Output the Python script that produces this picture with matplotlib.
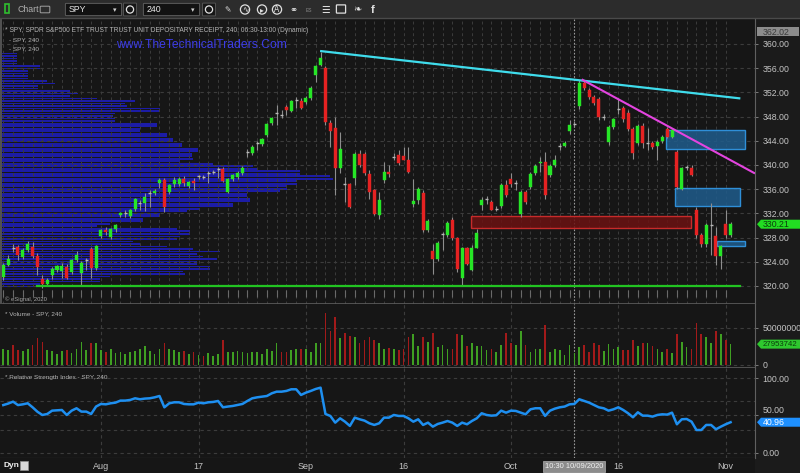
import numpy as np
import pandas as pd
import matplotlib
matplotlib.use("Agg")
import matplotlib.pyplot as plt
from matplotlib.patches import Rectangle, Polygon, FancyBboxPatch, Circle
from matplotlib.collections import LineCollection

plt.rcParams['font.family'] = ['Liberation Sans', 'DejaVu Sans']

# ---------------- SPY 240-minute bars, 2020-07-20 .. 2020-11-02 ----------------
opens = [321.42, 323.41, 326.45, 326.39, 324.73, 325.89, 326.39, 324.90, 321.09, 320.26,
         321.75, 322.58, 322.41, 323.08, 322.25, 324.24, 322.08, 324.20, 326.06, 322.91,
         328.21, 329.20, 328.04, 329.37, 331.69, 332.00, 331.52, 332.68, 333.60, 333.67,
         335.30, 335.33, 336.98, 337.48, 335.49, 336.82, 336.82, 337.65, 336.49, 337.30,
         338.00, 338.10, 338.60, 338.80, 339.20, 339.30, 335.49, 337.65, 337.98, 338.69,
         342.00, 341.95, 343.55, 343.44, 344.93, 346.92, 348.50, 348.30, 349.62, 348.95,
         350.65, 350.61, 350.44, 351.10, 354.86, 356.52, 355.97, 346.97, 346.14, 339.42,
         337.05, 336.82, 337.81, 341.78, 341.83, 338.59, 335.82, 331.80, 337.48, 338.80,
         341.30, 341.62, 341.50, 340.79, 333.60, 334.17, 335.38, 329.32, 325.72, 324.52,
         328.45, 328.37, 330.97, 327.93, 321.37, 326.34, 322.70, 326.34, 333.34, 334.25,
         333.89, 332.60, 333.18, 336.65, 337.76, 337.00, 331.85, 335.54, 336.37, 338.69,
         340.25, 340.50, 338.31, 339.96, 343.05, 343.11, 345.64, 346.70, 349.73, 353.59,
         352.38, 351.27, 350.84, 347.90, 343.82, 346.31, 349.10, 349.35, 348.62, 345.87,
         343.66, 346.42, 343.60, 343.56, 343.11, 343.94, 345.87, 344.65, 342.17, 336.10,
         339.60, 339.58, 332.51, 328.37, 327.00, 329.95, 328.21, 324.90, 330.19, 328.37]
highs = [323.74, 325.06, 326.88, 326.70, 326.20, 327.38, 327.20, 325.40, 321.75, 321.30,
         323.10, 323.50, 323.74, 323.60, 324.50, 325.70, 324.20, 324.70, 326.40, 326.80,
         329.40, 329.70, 329.60, 330.20, 332.30, 332.50, 332.80, 334.60, 334.20, 335.33,
         335.80, 336.00, 337.80, 337.80, 336.90, 338.00, 338.00, 338.20, 337.40, 337.80,
         338.40, 338.40, 339.00, 339.20, 339.70, 339.70, 337.90, 338.50, 339.00, 339.80,
         342.60, 343.30, 343.90, 344.50, 347.00, 348.00, 349.90, 349.10, 349.90, 350.80,
         351.30, 351.00, 351.40, 353.00, 356.60, 358.75, 356.40, 347.40, 347.96, 345.48,
         338.00, 337.00, 342.20, 342.45, 342.10, 339.10, 336.10, 335.54, 340.51, 339.96,
         341.90, 342.45, 343.00, 343.00, 337.76, 336.40, 335.80, 331.00, 327.00, 327.50,
         328.90, 330.80, 331.40, 328.10, 326.45, 326.45, 326.80, 329.48, 334.70, 334.80,
         334.20, 333.30, 337.00, 337.50, 338.70, 337.50, 335.80, 335.90, 338.80, 340.10,
         341.24, 342.17, 340.10, 341.60, 343.60, 343.90, 347.40, 347.20, 354.00, 354.03,
         352.70, 351.60, 351.27, 348.50, 346.60, 347.80, 351.00, 349.70, 349.10, 346.30,
         346.70, 346.90, 346.04, 343.90, 344.10, 345.00, 346.30, 346.00, 342.45, 339.70,
         340.00, 340.00, 333.00, 328.70, 330.40, 333.67, 329.70, 326.70, 332.51, 330.50]
lows = [320.92, 323.24, 325.56, 324.24, 324.40, 325.60, 324.60, 321.75, 319.60, 320.00,
        321.20, 322.30, 321.25, 321.10, 322.00, 323.90, 320.00, 322.60, 321.40, 322.60,
        327.90, 328.40, 327.80, 329.00, 331.40, 331.40, 331.30, 332.40, 332.50, 332.35,
        333.00, 335.00, 336.20, 332.20, 335.20, 336.30, 336.50, 336.60, 336.20, 335.80,
        337.60, 337.60, 337.00, 338.50, 337.80, 337.20, 335.30, 337.40, 337.65, 338.40,
        341.40, 341.60, 342.50, 343.20, 344.60, 346.60, 346.60, 347.70, 348.20, 348.70,
        349.40, 349.20, 350.10, 350.80, 353.66, 356.30, 346.60, 343.00, 335.00, 338.60,
        333.89, 332.90, 336.65, 339.70, 338.40, 334.45, 331.70, 331.14, 337.00, 338.00,
        340.80, 339.96, 340.80, 338.60, 333.06, 333.60, 328.90, 329.00, 322.03, 324.20,
        325.90, 328.05, 327.55, 322.30, 320.10, 323.40, 322.40, 326.20, 332.50, 333.60,
        332.50, 332.40, 332.85, 334.70, 336.40, 335.80, 331.40, 333.60, 336.10, 338.40,
        338.85, 334.45, 338.00, 339.70, 342.45, 342.90, 345.20, 346.20, 349.20, 352.40,
        350.90, 349.90, 347.40, 347.50, 343.30, 346.00, 348.50, 347.10, 345.60, 341.07,
        343.30, 342.73, 342.45, 342.60, 340.79, 343.70, 344.40, 344.40, 336.10, 335.80,
        339.20, 338.10, 328.00, 326.40, 326.40, 325.06, 323.41, 322.75, 327.90, 328.10]
closes = [323.41, 324.40, 326.30, 325.06, 325.89, 326.88, 324.90, 323.08, 320.26, 320.92,
          322.75, 323.24, 323.24, 321.26, 324.24, 325.06, 323.74, 324.30, 322.91, 326.55,
          329.20, 328.87, 329.37, 330.03, 332.02, 332.10, 332.51, 334.33, 333.70, 334.67,
          335.40, 335.66, 337.48, 333.01, 336.65, 337.48, 337.65, 336.98, 337.15, 336.98,
          338.10, 338.00, 338.75, 338.90, 339.35, 337.36, 337.65, 338.31, 338.69, 339.52,
          342.15, 343.00, 343.70, 344.27, 346.75, 347.74, 348.65, 348.20, 349.07, 350.56,
          350.80, 349.45, 351.10, 352.76, 356.40, 357.73, 347.03, 345.59, 339.52, 342.61,
          336.90, 333.06, 341.78, 339.96, 338.69, 335.54, 331.97, 334.17, 338.85, 338.50,
          341.40, 340.34, 340.90, 338.85, 334.05, 335.99, 329.20, 330.69, 324.52, 327.05,
          328.60, 330.41, 327.99, 322.86, 326.34, 323.69, 326.34, 328.75, 334.28, 334.35,
          332.63, 332.70, 336.65, 335.00, 336.82, 337.05, 335.54, 333.89, 338.47, 339.80,
          340.50, 335.00, 339.80, 340.79, 343.20, 343.66, 346.59, 346.80, 353.59, 352.66,
          351.27, 350.18, 347.96, 348.00, 346.20, 347.53, 349.25, 347.53, 345.87, 342.00,
          346.42, 343.56, 343.70, 342.89, 343.82, 344.65, 344.65, 345.76, 336.37, 339.42,
          339.70, 338.31, 328.37, 326.88, 330.03, 330.10, 324.90, 326.55, 328.37, 330.21]
volume_m = [21, 20, 27, 20, 19, 22, 27, 36, 31, 20,
            19, 15, 19, 20, 16, 21, 31, 20, 30, 29,
            20, 17, 21, 16, 17, 15, 18, 19, 21, 25,
            19, 15, 22, 30, 21, 20, 18, 19, 15, 18,
            13, 12, 16, 12, 15, 34, 18, 17, 19, 18,
            16, 17, 18, 15, 21, 19, 30, 17, 17, 20,
            22, 21, 22, 17, 29, 29, 70, 46, 64, 36,
            43, 39, 38, 30, 34, 37, 34, 29, 22, 23,
            21, 20, 21, 37, 42, 25, 37, 31, 43, 24,
            27, 21, 22, 42, 40, 25, 29, 25, 25, 20,
            22, 17, 27, 43, 29, 27, 45, 27, 17, 21,
            21, 54, 17, 21, 20, 14, 27, 16, 24, 27,
            18, 30, 27, 19, 28, 21, 24, 20, 20, 34,
            25, 30, 29, 25, 21, 18, 21, 16, 42, 31,
            24, 22, 56, 42, 38, 30, 46, 42, 34, 27.953742]
rsi = [64.0, 66.0, 68.6, 64.0, 65.0, 66.4, 61.0, 55.0, 50.7, 52.0,
       56.5, 57.0, 57.4, 50.7, 56.5, 59.7, 55.2, 55.2, 52.0, 62.0,
       65.5, 65.0, 66.4, 67.3, 70.0, 70.0, 70.9, 73.1, 71.8, 72.7,
       73.1, 74.4, 76.2, 61.0, 66.4, 67.7, 67.7, 65.5, 65.0, 65.0,
       67.3, 66.4, 67.7, 68.2, 69.5, 61.0, 62.0, 62.8, 64.2, 65.5,
       69.5, 73.1, 74.4, 75.3, 76.2, 79.8, 82.0, 82.0, 83.0, 85.2,
       85.2, 77.6, 80.7, 83.0, 85.6, 87.4, 52.0, 49.4, 40.4, 46.2,
       41.7, 36.0, 47.1, 44.9, 43.1, 39.5, 37.3, 39.5, 47.1, 47.1,
       50.7, 49.4, 49.4, 46.2, 41.7, 44.9, 37.3, 40.4, 35.0, 38.6,
       40.4, 42.6, 40.4, 36.0, 40.4, 38.2, 42.6, 46.2, 53.0, 50.7,
       49.8, 50.3, 56.5, 53.8, 56.5, 56.1, 53.8, 51.6, 58.3, 59.7,
       59.7, 49.4, 56.5, 59.2, 61.0, 62.0, 65.0, 65.5, 71.8, 69.5,
       67.3, 64.2, 61.0, 59.7, 56.5, 58.3, 61.0, 57.4, 53.0, 47.6,
       54.3, 49.8, 49.8, 48.5, 50.7, 51.6, 51.2, 53.8, 38.2, 44.9,
       45.3, 41.7, 30.5, 30.5, 37.3, 37.3, 31.5, 35.0, 38.2, 40.96]

# volume-by-price profile, top bin first (millions of shares)
profile_volume_m = [5, 5, 5, 5, 5, 12, 12, 8.5, 8.5, 8.5,
                    8.5, 14, 16.5, 11.5, 11.5, 21, 23.5, 21, 29, 40.5,
                    37.5, 38, 48, 48, 34.5, 34, 34.5, 34.5, 47, 47,
                    42, 42, 50, 50, 52, 52, 54.5, 54.5, 59.5, 59.5,
                    57.5, 57.5, 58, 54, 64, 76, 77, 90, 90, 99,
                    100, 89, 89, 86, 86, 84, 74, 74, 75, 75,
                    70, 70, 60, 56, 48, 48, 43, 43, 33, 29,
                    53, 57, 57, 54, 53, 40, 42, 50, 58, 66,
                    59, 61, 65, 59, 59, 63, 63, 55, 55.5, 33,
                    30, 30, 12, 15]
profile_top = 358.63
profile_step = 0.414

# drawn studies: (bar, price) end points
cyan_trend = [(64.9, 358.84), (151.0, 351.0)]
magenta_trend = [(118.5, 354.15), (154.0, 338.6)]
support_level = 320.0
support_span = (6.9, 151.0)
red_zone = (95.8, 140.9, 329.58, 331.52)
blue_zones = [(135.8, 151.9, 342.66, 345.83),
              (137.7, 150.9, 333.18, 336.27),
              (146.2, 151.9, 326.60, 327.43)]

time_labels = ["Aug", "17", "Sep", "16", "Oct", "16", "Nov"]
time_label_dates = ["2020-08-03", "2020-08-17", "2020-09-01", "2020-09-16",
                    "2020-10-01", "2020-10-16", "2020-11-02"]
cursor_time = "2020-10-09 10:30"

# ---------------- session calendar: two 240-minute bars per day ----------------
days = pd.bdate_range("2020-07-20", "2020-11-02")
days = days[days != pd.Timestamp("2020-09-07")]
bar_times = [d + pd.Timedelta(t) for d in days for t in ("6h30min", "10h30min")]
n = len(bar_times)
x = np.arange(n)
bar_of = {t: i for i, t in enumerate(bar_times)}
label_bars = [bar_of[pd.Timestamp(d) + pd.Timedelta("6h30min")] for d in time_label_dates]
cursor_bar = bar_of[pd.Timestamp(cursor_time)]
day_starts = x[::2]

o, h, l, c = map(np.array, (opens, highs, lows, closes))

# ---------------- figure layout (pixel boxes) ----------------
W, H = 800, 473
BG = '#161616'
GRID = '#3c3c3c'
LBL = '#c4c4c4'
fig = plt.figure(figsize=(W / 100, H / 100), dpi=100)
fig.patch.set_facecolor('#1b1b1b')


def px_axes(x0, y0, x1, y1, **kw):
    return fig.add_axes([x0 / W, 1 - y1 / H, (x1 - x0) / W, (y1 - y0) / H], **kw)


PR = 755
XMIN, XMAX = -0.676, 154.0
ax_prof = px_axes(0, 19, PR, 304)
ax = px_axes(0, 19, PR, 304, sharey=ax_prof)
ax_v = px_axes(0, 304, PR, 368)
ax_r = px_axes(0, 368, PR, 458)
ax_t = px_axes(0, 458, PR, 473)

for a in (ax_prof, ax_v, ax_r, ax_t):
    a.set_facecolor(BG)
ax.set_facecolor('none')
for a in (ax_prof, ax, ax_v, ax_r, ax_t):
    for s in a.spines.values():
        s.set_visible(False)

# ---------------- volume profile ----------------
prof = np.array(profile_volume_m)
centers = profile_top - profile_step * (np.arange(len(prof)) + 0.5)
ax_prof.barh(centers, prof, height=profile_step * 0.68, left=0, color='#1c1ca6',
             edgecolor='none')
ax_prof.set_xlim(0, 226.5)
ax_prof.set_ylim(317.02, 364.13)
ax_prof.tick_params(left=False, labelleft=False, bottom=False, labelbottom=False)

# ---------------- price panel ----------------
ax.set_xlim(XMIN, XMAX)
price_ticks = np.arange(320, 361, 4)
ax.hlines(price_ticks, XMIN, XMAX, colors=GRID, linestyles=(0, (3, 3)), lw=0.8, zorder=1)
ax.vlines(day_starts, 317.02, 364.13, colors=GRID, linestyles=(0, (3, 3)), lw=0.7, zorder=1)
ax.vlines(day_starts, 0.025, 0.05, transform=ax.get_xaxis_transform(),
          colors='#6a6a6a', lw=0.8, zorder=1)
ax.vlines([cursor_bar], 0, 1, transform=ax.get_xaxis_transform(),
          colors='#9a9a9a', linestyles=(0, (1.5, 1.5)), lw=0.8, zorder=1.5)

# zones
rz = red_zone
ax.add_patch(Rectangle((rz[0], rz[2]), rz[1] - rz[0], rz[3] - rz[2],
                       fc=(0.42, 0.07, 0.07, 0.85), ec='#c82a2a', lw=1.0, zorder=2.5))
for bz in blue_zones:
    ax.add_patch(Rectangle((bz[0], bz[2]), bz[1] - bz[0], bz[3] - bz[2],
                           fc=(0.12, 0.36, 0.55, 0.85), ec='#2f8fd8', lw=1.0, zorder=2.5))

# candles
body_w = 0.62
wicks = LineCollection([[(i, l[i]), (i, h[i])] for i in x], colors='#8e8e8e',
                       linewidths=0.8, zorder=3)
ax.add_collection(wicks)
flat = np.abs(c - o) < 0.2
for i in x:
    if flat[i]:
        ax.plot([i - body_w / 2, i + body_w / 2], [c[i], c[i]], color='#b8b8b8',
                lw=1.0, zorder=4, solid_capstyle='butt')
    else:
        col = '#26e626' if c[i] > o[i] else '#e62222'
        ax.add_patch(Rectangle((i - body_w / 2, min(o[i], c[i])), body_w, abs(c[i] - o[i]),
                               fc=col, ec=col, lw=0.3, zorder=4))

# trend lines
ax.plot(*zip(*cyan_trend), color='#3fdcec', lw=1.6, zorder=5, solid_capstyle='butt')
ax.plot(*zip(*magenta_trend), color='#e444e0', lw=1.5, zorder=5, solid_capstyle='butt')
ax.plot(support_span, [support_level, support_level], color='#22c422', lw=1.6, zorder=5)

ax.set_ylim(317.02, 364.13)
ax.yaxis.tick_right()
ax.set_yticks(price_ticks)
ax.set_yticklabels([f"{v:.2f}" for v in price_ticks])
ax.tick_params(axis='y', colors='#8a8a8a', labelcolor=LBL, labelsize=6.3, length=2.5,
               pad=3, width=0.6)
ax.tick_params(axis='x', bottom=False, labelbottom=False)
ax.spines['right'].set_visible(True)
ax.spines['right'].set_color('#606060')
ax.spines['bottom'].set_visible(True)
ax.spines['bottom'].set_color('#5c5c5c')
ax.spines['bottom'].set_linewidth(1.2)

# ---------------- volume panel ----------------
vol = np.array(volume_m) * 1e6
vcol = ['#3f9f22' if ci >= oi else '#a21a1a' for oi, ci in zip(o, c)]
ax_v.set_xlim(XMIN, XMAX)
ax_v.set_ylim(-4.02e6, 81.7e6)
ax_v.hlines([0, 50e6], XMIN, XMAX, colors=GRID, linestyles=(0, (3, 3)), lw=0.8, zorder=1)
ax_v.vlines(label_bars, -4.02e6, 81.7e6, colors=GRID, linestyles=(0, (3, 3)), lw=0.8, zorder=1)
ax_v.vlines([cursor_bar], -4.02e6, 81.7e6, colors='#9a9a9a', linestyles=(0, (1.5, 1.5)),
            lw=0.8, zorder=1.5)
ax_v.bar(x, vol, width=0.34, color=vcol, zorder=3)
ax_v.yaxis.tick_right()
ax_v.set_yticks([0, 50e6])
ax_v.set_yticklabels(["0", "50000000"])
ax_v.tick_params(axis='y', colors='#8a8a8a', labelcolor=LBL, labelsize=6.3, length=2.5,
                 pad=3, width=0.6)
ax_v.tick_params(axis='x', bottom=False, labelbottom=False)
ax_v.spines['right'].set_visible(True)
ax_v.spines['right'].set_color('#606060')
ax_v.spines['bottom'].set_visible(True)
ax_v.spines['bottom'].set_color('#5c5c5c')
ax_v.spines['bottom'].set_linewidth(1.2)

# ---------------- RSI panel ----------------
ax_r.set_xlim(XMIN, XMAX)
ax_r.set_ylim(-7.1, 113.8)
ax_r.hlines([0, 30, 50, 70, 100], XMIN, XMAX, colors=GRID, linestyles=(0, (3, 3)),
            lw=0.8, zorder=1)
ax_r.vlines(label_bars, -7.1, 113.8, colors=GRID, linestyles=(0, (3, 3)), lw=0.8, zorder=1)
ax_r.vlines([cursor_bar], -7.1, 113.8, colors='#9a9a9a', linestyles=(0, (1.5, 1.5)),
            lw=0.8, zorder=1.5)
ax_r.plot(x, rsi, color='#1e8ff0', lw=1.8, zorder=3)
ax_r.yaxis.tick_right()
ax_r.set_yticks([0, 50, 100])
ax_r.set_yticklabels(["0.00", "50.00", "100.00"])
ax_r.tick_params(axis='y', colors='#8a8a8a', labelcolor=LBL, labelsize=6.3, length=2.5,
                 pad=3, width=0.6)
for t in ax_r.get_yticklabels():
    t.set_va('bottom' if t.get_text() == "50.00" else 'center_baseline')
ax_r.tick_params(axis='x', bottom=False, labelbottom=False)
ax_r.spines['right'].set_visible(True)
ax_r.spines['right'].set_color('#606060')
ax_r.spines['bottom'].set_visible(True)
ax_r.spines['bottom'].set_color('#5c5c5c')

# ---------------- time axis ----------------
ax_t.set_xlim(XMIN, XMAX)
ax_t.set_ylim(0, 1)
ax_t.tick_params(left=False, labelleft=False, bottom=False, labelbottom=False)
for b, lab in zip(label_bars, time_labels):
    ax_t.text(b, 0.45, lab, color=LBL, fontsize=6.5, ha='center', va='center')
ax_t.text(cursor_bar, 0.45, pd.Timestamp(cursor_time).strftime("%H:%M %m/%d/%Y"),
          color='#f2f2f2', fontsize=5.4, ha='center', va='center', zorder=5,
          bbox=dict(boxstyle='square,pad=0.25', fc='#8c8c8c', ec='#b0b0b0', lw=0.5))

# ---------------- overlay: header, captions, value tags ----------------
ov = fig.add_axes([0, 0, 1, 1], zorder=10)
ov.set_xlim(0, W)
ov.set_ylim(H, 0)
ov.axis('off')

# toolbar
ov.add_patch(Rectangle((0, 0), W, 18, fc='#2c2c2c', ec='none'))
ov.plot([0, W], [18.5, 18.5], color='#4a4a4a', lw=1)
ov.add_patch(Rectangle((5, 4.5), 4, 9, fc='none', ec='#2fbf2f', lw=1.2))
ov.text(17, 10, 'Chart', color='#b0b0b0', fontsize=6.3, va='center')
ov.add_patch(FancyBboxPatch((41, 7), 8, 5, boxstyle='round,pad=0.8', fc='none',
                            ec='#a0a0a0', lw=0.7))
for bx0, bx1, label in ((66, 121, 'SPY'), (144, 199, '240')):
    ov.add_patch(FancyBboxPatch((bx0, 4), bx1 - bx0, 11, boxstyle='round,pad=0.6',
                                fc='#121212', ec='#5c5c5c', lw=0.7))
    ov.text(bx0 + 3, 9.8, label, color='#e8e8e8', fontsize=6.3, va='center')
    ov.text(bx1 - 6, 9.8, '\u25be', color='#d0d0d0', fontsize=5, va='center', ha='center',
            family='DejaVu Sans')
for cx in (130, 209):
    ov.add_patch(FancyBboxPatch((cx - 6, 3.5), 12, 12, boxstyle='round,pad=0.4',
                                fc='#161616', ec='#5c5c5c', lw=0.6))
    ov.add_patch(Circle((cx, 9.5), 3.6, fc='none', ec='#e0e0e0', lw=0.9))
icon_glyphs = [(228, '\u270e'), (245, '\u223f'), (262, '\u25b8'), (277, 'A')]
for ix, g in icon_glyphs:
    if g != '\u270e':
        ov.add_patch(Circle((ix, 9.5), 4.6, fc='none', ec='#e0e0e0', lw=0.9))
    ov.text(ix, 9.8, g, color='#e0e0e0', fontsize=5.5, ha='center', va='center',
            family='DejaVu Sans')
ov.text(293, 9.8, '\u26ad', color='#e0e0e0', fontsize=7, ha='center', va='center',
        family='DejaVu Sans')
ov.text(309, 10, 'ES', color='#8a8a8a', fontsize=3.5, ha='center', va='center')
ov.text(326, 9.8, '\u2630', color='#e0e0e0', fontsize=7, ha='center', va='center',
        family='DejaVu Sans')
ov.add_patch(FancyBboxPatch((337, 5.5), 8, 7, boxstyle='round,pad=0.6', fc='none',
                            ec='#e0e0e0', lw=0.9))
ov.text(357, 9.8, '\u2767', color='#e0e0e0', fontsize=7, ha='center', va='center',
        family='DejaVu Sans')
ov.text(373, 10, 'f', color='#e0e0e0', fontsize=8, ha='center', va='center',
        fontweight='bold')

# captions
ov.text(5, 31, '* SPY, SPDR S&P500 ETF TRUST TRUST UNIT DEPOSITARY RECEIPT, 240, '
        '06:30-13:00 (Dynamic)', color='#b4b4b4', fontsize=4.75, va='center')
ov.text(9, 40, '- SPY, 240', color='#b4b4b4', fontsize=4.6, va='center')
ov.text(9, 49, '- SPY, 240', color='#b4b4b4', fontsize=4.6, va='center')
ov.text(201, 44.5, 'www.TheTechnicalTraders.Com', color='#3c3ce6', fontsize=8.7,
        ha='center', va='center')
ov.text(5, 299.5, '\u00a9 eSignal, 2020', color='#a8a8a8', fontsize=4.2, va='center')
ov.text(5, 314, '* Volume - SPY, 240', color='#b4b4b4', fontsize=4.6, va='center')
ov.text(5, 377.5, '* Relative Strength Index - SPY, 240', color='#b4b4b4', fontsize=4.6,
        va='center')
ov.text(4, 465, 'Dyn', color='#f0f0f0', fontsize=6, va='center', fontweight='bold')
ov.add_patch(Rectangle((20, 461), 7.5, 8.5, fc='#d8d8d8', ec='#909090', lw=0.5))

# left border strip of the price panel
ov.add_patch(Rectangle((0, 19), 2.2, 285, fc='#505050', ec='none'))


def tag(axis, value, text, fc, tc, arrow=True, size=6.3):
    _, yd = axis.transData.transform((0, value))
    y = H - yd
    x0, hgt = 757, 9
    if arrow:
        pts = [(x0, y), (x0 + 4, y - hgt / 2), (W, y - hgt / 2), (W, y + hgt / 2),
               (x0 + 4, y + hgt / 2)]
    else:
        pts = [(x0, y - hgt / 2), (W - 1, y - hgt / 2), (W - 1, y + hgt / 2),
               (x0, y + hgt / 2)]
    ov.add_patch(Polygon(pts, closed=True, fc=fc, ec='none'))
    ov.text(x0 + 5.5, y + 0.3, text, color=tc, fontsize=size, va='center', ha='left')


tag(ax, 362.02, "362.02", '#8c8c8c', '#3a3a3a', arrow=False)
tag(ax, closes[-1], f"{closes[-1]:.2f}", '#22dd22', '#0b3d0b')
tag(ax_v, volume_m[-1] * 1e6, f"{int(round(volume_m[-1] * 1e6))}", '#2ec82e', '#0b3d0b',
    size=5.6)
tag(ax_r, rsi[-1], f"{rsi[-1]:.2f}", '#1e90ff', '#ffffff')

fig.savefig('out.png', dpi=100, facecolor=fig.get_facecolor())
